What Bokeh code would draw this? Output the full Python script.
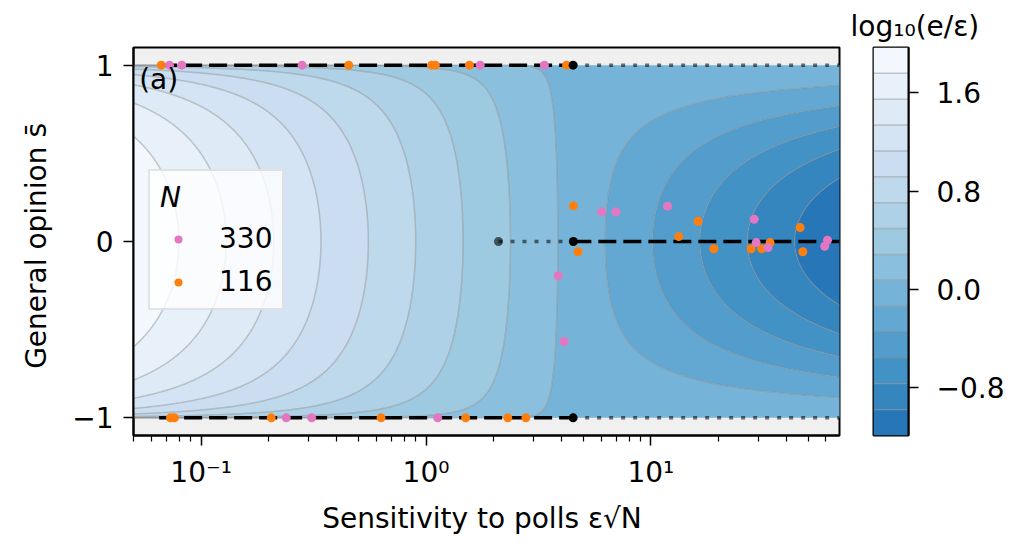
import numpy as np
from bokeh.plotting import figure
from bokeh.models import Range1d, FixedTicker, Legend, LegendItem, Label
from bokeh.layouts import row
from bokeh.embed import file_html
from bokeh.resources import INLINE
from bokeh.palettes import Blues256

# ---------------- data ----------------
x_limits = (0.05, 69.0)
s_limits = (-1.1, 1.1)
x_ticks = [0.1, 1.0, 10.0]
x_tick_labels = ["10\u207b\u00b9", "10\u2070", "10\u00b9"]
s_ticks = [-1, 0, 1]
s_tick_labels = ["\u22121", "0", "1"]
cbar_ticks = [-0.8, 0.0, 0.8, 1.6]
cbar_tick_labels = ["\u22120.8", "0.0", "0.8", "1.6"]
level_min, level_max, n_bands = -1.19, 1.97, 15

# background field log10(e/eps): value at s=0 is offset - log10(eps*sqrt(N)),
# bending towards the edge value near s = +-1
field_offset_s0 = 0.66
field_edge_value = 0.03
field_power_left = 0.25
field_power_right = 1.3
field_transition_logx = 0.68
field_transition_width = 0.08

# simulation points
N_labels = ["330", "116"]
pink_top_x = [0.0723, 0.082, 0.281, 1.74, 3.36]
pink_bottom_x = [0.239, 0.310, 1.127]
pink_mid_x = [3.87, 4.11, 6.04, 6.99, 11.86, 28.8, 29.4, 33.2, 61.0, 59.3]
pink_mid_s = [-0.194, -0.567, 0.168, 0.168, 0.200, 0.126, -0.006, -0.034, 0.007, -0.027]
orange_top_x = [0.0664, 0.453, 1.06, 1.10, 1.56, 4.22]
orange_bottom_x = [0.073, 0.076, 0.205, 0.631, 1.50, 2.31, 2.78]
orange_mid_x = [4.52, 4.74, 13.3, 16.2, 19.05, 27.9, 31.1, 33.9, 46.1, 47.4]
orange_mid_s = [0.202, -0.058, 0.028, 0.115, -0.041, -0.041, -0.041, -0.006, 0.079, -0.058]

# theory branches
edge_start_x = 0.065
critical_x = 4.51
center_start_x = 2.10
center_critical_x = 4.52
end_x = 69.0

FONT = "DejaVu Sans"
FS = "28px"
PINK = "#e377c2"
ORANGE = "#ff7f0e"

# ---------------- colours ----------------
def lum(h):
    return int(h[1:3], 16) + int(h[3:5], 16) + int(h[5:7], 16)

blues = list(Blues256)
if lum(blues[0]) < lum(blues[-1]):
    blues = blues[::-1]  # light first, like matplotlib Blues

def cmap(t):
    return blues[int(round(t * 255))]

palette = [cmap(0.75 * (1 - (i + 0.5) / n_bands)) for i in range(n_bands)]
levels = list(np.linspace(level_min, level_max, n_bands + 1))

# ---------------- field ----------------
lx = np.linspace(np.log10(x_limits[0]) - 0.01, np.log10(x_limits[1]) + 0.01, 330)
xs = 10 ** lx
ss = np.sin(np.linspace(-np.pi / 2, np.pi / 2, 361))
LX, S = np.meshgrid(lx, ss)
v0 = field_offset_s0 - LX
pw = field_power_left + (field_power_right - field_power_left) / (
    1 + np.exp(-(LX - field_transition_logx) / field_transition_width))
Z = field_edge_value + (v0 - field_edge_value) * np.clip(1 - S ** 2, 0, None) ** pw

# ---------------- main figure ----------------
p = figure(x_axis_type="log", x_range=Range1d(*x_limits), y_range=Range1d(*s_limits),
           frame_width=706, frame_height=388, output_backend="svg",
           toolbar_location=None, background_fill_color="#f0f0f0")
p.min_border_left = 133
p.min_border_right = 10
p.min_border_top = 47
p.min_border_bottom = 95
p.grid.visible = False
p.outline_line_color = "black"
p.outline_line_width = 2

p.contour(xs, ss, Z, levels=levels, fill_color=palette,
          line_color="#8a8a8a", line_alpha=0.45, line_width=1.5)

# theory lines
for yv in (1, -1):
    p.line([edge_start_x, critical_x], [yv, yv], line_color="black", line_width=3.5,
           line_dash="18 7")
    p.line([critical_x, end_x], [yv, yv], line_color="black", line_alpha=0.55,
           line_width=3.5, line_dash="4 8")
p.line([center_start_x, center_critical_x], [0, 0], line_color="black", line_alpha=0.55,
       line_width=3.5, line_dash="4 8")
p.line([center_critical_x, end_x], [0, 0], line_color="black", line_width=3.5,
       line_dash="18 7")

# points
ox = orange_top_x + orange_bottom_x + orange_mid_x
oy = [1] * len(orange_top_x) + [-1] * len(orange_bottom_x) + orange_mid_s
px = pink_top_x + pink_bottom_x + pink_mid_x
py = [1] * len(pink_top_x) + [-1] * len(pink_bottom_x) + pink_mid_s
r_orange = p.scatter(ox, oy, size=9, fill_color=ORANGE, line_color=None)
r_pink = p.scatter(px, py, size=9, fill_color=PINK, line_color=None)

p.scatter([critical_x, critical_x, center_critical_x], [1, -1, 0], size=9,
          fill_color="black", line_color=None)
p.scatter([center_start_x], [0], size=9, fill_color="black", fill_alpha=0.6, line_color=None)

# axes
p.xaxis.ticker = FixedTicker(ticks=x_ticks,
                             minor_ticks=[m * 10.0 ** k for k in (-2, -1, 0, 1) for m in range(2, 10)])
p.xaxis.major_label_overrides = dict(zip(x_ticks, x_tick_labels))
p.yaxis.ticker = FixedTicker(ticks=s_ticks)
p.yaxis.major_label_overrides = dict(zip(s_ticks, s_tick_labels))
p.xaxis.axis_label = "Sensitivity to polls  \u03b5\u221aN"
p.yaxis.axis_label = "General opinion  s\u0304"
for ax in (p.xaxis[0], p.yaxis[0]):
    ax.axis_label_text_font = FONT
    ax.axis_label_text_font_size = FS
    ax.axis_label_text_font_style = "normal"
    ax.axis_label_text_color = "black"
    ax.major_label_text_font = FONT
    ax.major_label_text_font_size = FS
    ax.major_label_text_color = "black"
    ax.axis_line_width = 2
    ax.axis_line_color = "black"
    ax.major_tick_line_color = "black"
    ax.minor_tick_line_color = "black"
    ax.major_tick_line_width = 1.5
    ax.minor_tick_line_width = 1.2
    ax.major_tick_out = 10
    ax.major_tick_in = 0
    ax.minor_tick_out = 6
    ax.minor_tick_in = 0
    ax.major_label_standoff = 10
p.xaxis.axis_label_standoff = 10
p.yaxis.axis_label_standoff = 16

p.add_layout(Label(x=0.053, y=0.92, text="(a)", text_font=FONT, text_font_size=FS,
                   text_baseline="middle", text_color="black"))

legend = Legend(items=[LegendItem(label=N_labels[0], renderers=[r_pink]),
                       LegendItem(label=N_labels[1], renderers=[r_orange])],
                location=(15, 125), title="N")
legend.title_text_font = FONT
legend.title_text_font_size = FS
legend.title_text_font_style = "italic"
legend.title_text_color = "black"
legend.title_standoff = 8
legend.label_text_font = FONT
legend.label_text_font_size = FS
legend.label_text_color = "black"
legend.padding = 10
legend.spacing = 10
legend.glyph_width = 36
legend.glyph_height = 20
legend.label_standoff = 23
legend.margin = 0
legend.background_fill_color = "white"
legend.background_fill_alpha = 0.8
legend.border_line_color = "#c8c8c8"
legend.border_line_width = 2
p.add_layout(legend)

# ---------------- colour bar figure ----------------
cb = figure(x_range=Range1d(0, 1), y_range=Range1d(level_min, level_max),
            frame_width=35, frame_height=388, output_backend="svg",
            toolbar_location=None, y_axis_location="right")
cb.min_border_left = 24
cb.min_border_right = 95
cb.min_border_top = 47
cb.min_border_bottom = 95
cb.grid.visible = False
cb.xaxis.visible = False
cb.outline_line_color = "black"
cb.outline_line_width = 2
cb.quad(left=0, right=1, bottom=levels[:-1], top=levels[1:], fill_color=palette,
        line_color=None)
cb.segment(x0=0, x1=1, y0=levels[1:-1], y1=levels[1:-1], line_color="#8a8a8a",
           line_alpha=0.45, line_width=1.5)
cb.yaxis.ticker = FixedTicker(ticks=cbar_ticks)
cb.yaxis.major_label_overrides = dict(zip(cbar_ticks, cbar_tick_labels))
cb.yaxis.major_label_text_font = FONT
cb.yaxis.major_label_text_font_size = FS
cb.yaxis.major_label_text_color = "black"
cb.yaxis.axis_line_width = 2
cb.yaxis.axis_line_color = "black"
cb.yaxis.major_tick_line_color = "black"
cb.yaxis.major_tick_line_width = 1.5
cb.yaxis.major_tick_out = 10
cb.yaxis.major_tick_in = 0
cb.yaxis.minor_tick_line_color = None
cb.yaxis.major_label_standoff = 18
cb.title.text = "log\u2081\u2080(e/\u03b5)"
cb.title.text_font = FONT
cb.title.text_font_size = FS
cb.title.text_font_style = "normal"
cb.title.text_color = "black"
cb.title.align = "left"
cb.title.offset = -23

layout = row(p, cb)
open("out.html", "w").write(file_html(layout, INLINE))
